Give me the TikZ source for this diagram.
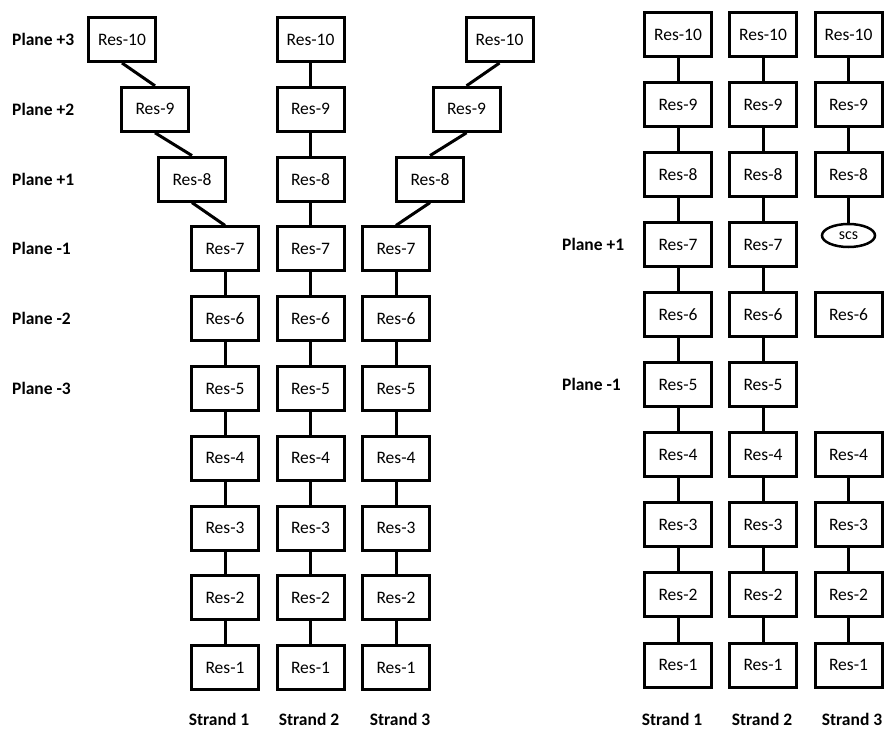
\documentclass[tikz,border=0pt]{standalone}
\usepackage{fontspec}
\setmainfont{Carlito}
\usetikzlibrary{shapes.geometric}
\begin{document}
\begin{tikzpicture}[x=1pt,y=-1pt,
  res/.style={draw, line width=3pt, minimum width=67pt, minimum height=44pt,
    inner sep=0pt, font=\fontsize{17.5}{20}\selectfont},
  link/.style={line width=3pt},
  plane/.style={anchor=west, inner sep=0pt, font=\fontsize{17.5}{21}\selectfont\bfseries},
  strand/.style={anchor=base, inner sep=0pt, font=\fontsize{17.5}{21}\selectfont\bfseries},
  scsnode/.style={draw, ellipse, line width=2.5pt, minimum width=53pt, minimum height=23pt,
    inner sep=0pt, font=\fontsize{16}{18}\selectfont}]
\useasboundingbox (0,0) rectangle (886,729);

% ---------- left panel: three strands, upper part splayed ----------
\foreach \s/\x in {1/225,2/310.5,3/396}
  \foreach \k in {1,...,7}
    \node[res] (L\s-\k) at (\x,{39.5+(10-\k)*69.8}) {Res-\k};
\foreach \s/\a/\b/\c in {1/192/155/122, 2/310.5/310.5/310.5, 3/430/466.5/499.5}{
  \node[res] (L\s-8)  at (\a,{39.5+2*69.8}) {Res-8};
  \node[res] (L\s-9)  at (\b,{39.5+1*69.8}) {Res-9};
  \node[res] (L\s-10) at (\c,39.5) {Res-10};
}
\foreach \s in {1,2,3}
  \foreach \k [count=\n from 2] in {1,...,9}
    \draw[link] (L\s-\k.north) -- (L\s-\n.south);

\node[plane] (lp3)  at (12,39.5) {Plane +3};
\node[plane] (lp2)  at (12,{39.5+1*69.8}) {Plane +2};
\node[plane] (lp1)  at (12,{39.5+2*69.8}) {Plane +1};
\node[plane] (lm1)  at (12,{39.5+3*69.8}) {Plane -1};
\node[plane] (lm2)  at (12,{39.5+4*69.8}) {Plane -2};
\node[plane] (lm3)  at (12,{39.5+5*69.8}) {Plane -3};

\node[strand] (ls1) at (219,725.5) {Strand 1};
\node[strand] (ls2) at (309,725.5) {Strand 2};
\node[strand] (ls3) at (400,725.5) {Strand 3};

% ---------- right panel: straight strands, third one broken ----------
\foreach \s/\x in {1/678,2/763}{
  \foreach \k in {1,...,10}
    \node[res] (R\s-\k) at (\x,{34.5+(10-\k)*70.06}) {Res-\k};
  \foreach \k [count=\n from 2] in {1,...,9}
    \draw[link] (R\s-\k) -- (R\s-\n);
}
\foreach \k in {1,2,3,4,6,8,9,10}
  \node[res] (R3-\k) at (848.5,{34.5+(10-\k)*70.06}) {Res-\k};
\node[scsnode] (scs) at (848.5,235.5) {scs};
\draw[link] (R3-1) -- (R3-2);
\draw[link] (R3-2) -- (R3-3);
\draw[link] (R3-3) -- (R3-4);
\draw[link] (R3-8) -- (R3-9);
\draw[link] (R3-9) -- (R3-10);
\draw[link] (R3-8) -- (scs);

\node[plane] (rp1) at (562,{34.5+3*70.06}) {Plane +1};
\node[plane] (rm1) at (562,{34.5+5*70.06}) {Plane -1};

\node[strand] (rs1) at (672,725.5) {Strand 1};
\node[strand] (rs2) at (762,725.5) {Strand 2};
\node[strand] (rs3) at (852,725.5) {Strand 3};
\end{tikzpicture}
\end{document}
